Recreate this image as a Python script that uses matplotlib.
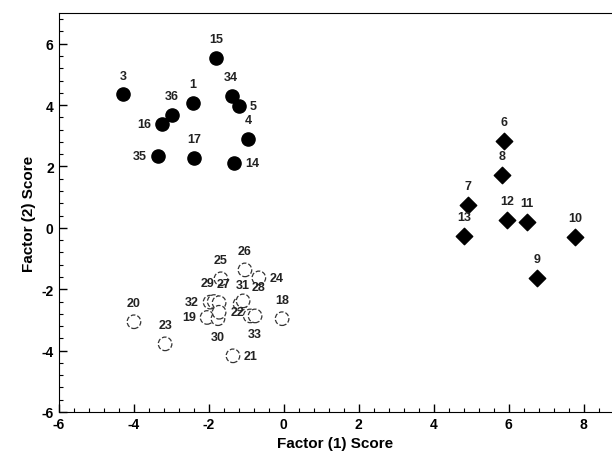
import matplotlib
matplotlib.use("Agg")
from matplotlib import pyplot as plt
from matplotlib.ticker import MultipleLocator

plt.rcParams['font.family'] = ['Liberation Sans', 'DejaVu Sans']
plt.rcParams['axes.unicode_minus'] = False

# group 1: filled circles
g1_x = [-2.42, -4.28, -1.80, -1.38, -1.19, -2.97, -3.24, -0.95, -2.39, -3.35, -1.32]
g1_y = [4.07, 4.36, 5.54, 4.30, 3.97, 3.68, 3.39, 2.90, 2.28, 2.35, 2.12]
g1_lab = ['1', '3', '15', '34', '5', '36', '16', '4', '17', '35', '14']
g1_pos = ['top', 'top', 'top', 'topleft', 'right', 'top', 'left', 'top', 'top', 'left', 'right']

# group 2: diamonds
g2_x = [5.88, 5.82, 4.92, 5.96, 6.49, 4.81, 7.78, 6.76]
g2_y = [2.83, 1.73, 0.75, 0.26, 0.20, -0.26, -0.29, -1.63]
g2_lab = ['6', '8', '7', '12', '11', '13', '10', '9']
g2_pos = ['top'] * 8

# group 3: open circles
g3_x = [-1.67, -1.03, -0.66, -1.96, -1.85, -1.72, -1.16, -1.08, -2.04, -1.75, -1.72,
        -0.89, -0.76, -0.04, -3.99, -3.16, -1.35]
g3_y = [-1.66, -1.37, -1.63, -2.42, -2.40, -2.44, -2.48, -2.38, -2.92, -2.96, -2.75,
        -2.87, -2.87, -2.96, -3.06, -3.78, -4.17]
g3_lab = ['25', '26', '24', '32', '29', '27', '31', '28', '19', '30', '22',
          '', '33', '18', '20', '23', '21']
g3_pos = ['top', 'top', 'right', 'left', 'top_l', 'top_r', 'top_r2', 'top_rr',
          'left', 'bottom', 'right', 'top', 'bottom', 'top', 'top', 'top', 'right']

offsets = {'top': (0, 9, 'center', 'bottom'),
           'topleft': (-1, 9, 'center', 'bottom'),
           'top_l': (-5, 9, 'center', 'bottom'),
           'top_r': (3, 9, 'center', 'bottom'),
           'top_r2': (2, 9, 'center', 'bottom'),
           'top_rr': (6, 6, 'left', 'bottom'),
           'bottom': (0, -9, 'center', 'top'),
           'left': (-8, 0, 'right', 'center'),
           'right': (8, 0, 'left', 'center')}


def label_points(ax, xs, ys, labs, poss):
    for x, y, t, p in zip(xs, ys, labs, poss):
        if not t:
            continue
        dx, dy, ha, va = offsets[p]
        ax.annotate(t, (x, y), xytext=(dx, dy), textcoords='offset points',
                    ha=ha, va=va, fontsize=9, fontweight='bold', color='#222222')


fig = plt.figure(figsize=(6.12, 4.64), dpi=100)
ax = fig.add_axes([58.6 / 612, 51 / 464, (612 - 58.6) / 612, 399 / 464])

ax.scatter(g3_x, g3_y, s=95, facecolors='white', edgecolors='#333333',
           linewidths=0.9, linestyles='--', zorder=3)
ax.scatter(g1_x, g1_y, s=90, c='black', zorder=3)
ax.scatter(g2_x, g2_y, s=70, c='black', marker='D', zorder=3)

label_points(ax, g1_x, g1_y, g1_lab, g1_pos)
label_points(ax, g2_x, g2_y, g2_lab, g2_pos)
label_points(ax, g3_x, g3_y, g3_lab, g3_pos)

ax.set_xlim(-6, -6 + (612 - 58.6) / 37.5)
ax.set_ylim(-6, 7)
ax.xaxis.set_major_locator(MultipleLocator(2))
ax.xaxis.set_minor_locator(MultipleLocator(0.4))
ax.yaxis.set_major_locator(MultipleLocator(2))
ax.yaxis.set_minor_locator(MultipleLocator(0.4))
ax.tick_params(which='major', direction='in', length=6, width=1, labelsize=10)
ax.tick_params(which='minor', direction='in', length=3, width=0.8)
for lab in ax.get_xticklabels() + ax.get_yticklabels():
    lab.set_fontweight('bold')
ax.spines['right'].set_visible(False)

ax.set_xlabel('Factor (1) Score', fontsize=11, fontweight='bold')
ax.set_ylabel('Factor (2) Score', fontsize=11, fontweight='bold')

plt.savefig('out.png', dpi=100)
